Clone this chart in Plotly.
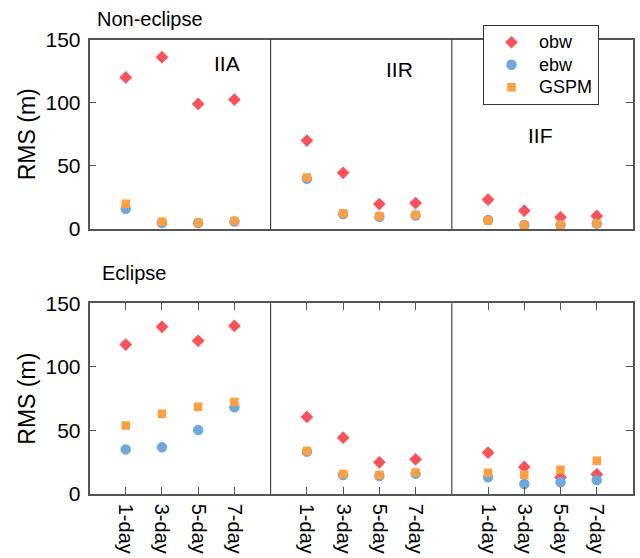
import plotly.graph_objects as go

W, H = 640, 558

categories = ["1-day", "3-day", "5-day", "7-day"]
groups = ["IIA", "IIR", "IIF"]

# Non-eclipse (top panel), values per group: IIA, IIR, IIF
obw_non = [120, 136, 99, 102.5, 70, 44.5, 19.7, 20.5, 23.3, 14.5, 9.3, 10.3]
ebw_non = [16, 4.8, 4.8, 6, 39.7, 11.8, 9.6, 10.6, 7.1, 3.2, 3.4, 4.3]
gspm_non = [20, 5.8, 5.0, 6.3, 40.7, 12.3, 10.0, 11.0, 6.8, 3.2, 3.4, 4.4]

# Eclipse (bottom panel)
obw_ecl = [117.5, 131.5, 120.5, 132.2, 60.6, 44.3, 24.9, 27.3, 32.5, 21.3, 13.0, 15.5]
ebw_ecl = [35.1, 36.7, 50.3, 68.2, 33.3, 14.9, 14.2, 16.0, 13.1, 7.9, 9.2, 11.0]
gspm_ecl = [53.8, 63.2, 68.7, 72.4, 33.8, 15.7, 14.9, 17.0, 16.8, 15.2, 19.1, 26.2]

y_ticks = [0, 50, 100, 150]

# x positions: each group spans 5 units, categories at 1..4 within group
xpos = [g * 5 + i + 1 for g in range(len(groups)) for i in range(len(categories))]
xlabels = categories * len(groups)

RED = "#F9525B"
BLUE = "#6FA8DC"
ORANGE = "#FF9F40"
FONT = "Liberation Sans, Arial, sans-serif"

fig = go.Figure()

def legname(s):
    return f'<span style="font-size:18px">{s}</span>'

def add_series(vals, name, color, symbol, size, xa, ya, show):
    fig.add_trace(go.Scatter(
        x=xpos, y=vals, mode="markers", name=legname(name),
        marker=dict(color=color, symbol=symbol, size=size, line=dict(width=0)),
        xaxis=xa, yaxis=ya, showlegend=show))

add_series(obw_non, "obw", RED, "diamond", 9.8, "x", "y", True)
add_series(ebw_non, "ebw", BLUE, "circle", 10.5, "x", "y", True)
add_series(gspm_non, "GSPM", ORANGE, "square", 8.5, "x", "y", True)
add_series(obw_ecl, "obw", RED, "diamond", 9.8, "x2", "y2", False)
add_series(ebw_ecl, "ebw", BLUE, "circle", 10.5, "x2", "y2", False)
add_series(gspm_ecl, "GSPM", ORANGE, "square", 8.5, "x2", "y2", False)

xdom = [89.5 / W, 633 / W]
top_dom = [1 - 229 / H, 1 - 39.5 / H]
bot_dom = [1 - 494 / H, 1 - 303.3 / H]

frame = dict(showline=True, linecolor="#555555", linewidth=1.5, mirror="ticks",
             showgrid=False, zeroline=False, ticks="inside", ticklen=7,
             tickcolor="#555555", tickwidth=1.2, automargin=False)

fig.update_layout(
    width=W, height=H,
    margin=dict(l=0, r=0, t=0, b=0, autoexpand=False),
    paper_bgcolor="white", plot_bgcolor="white",
    font=dict(family=FONT, color="black", size=20),
    xaxis=dict(domain=xdom, anchor="y", range=[0, 15], tickvals=xpos,
               ticktext=xlabels, showticklabels=False, **{**frame, "ticks": ""}),
    yaxis=dict(domain=top_dom, anchor="x", range=[0, 150], tickvals=y_ticks,
               tickfont=dict(size=21), ticklabelstandoff=3, **frame),
    xaxis2=dict(domain=xdom, anchor="y2", range=[0, 15], tickvals=xpos,
                ticktext=xlabels, tickangle=90, tickfont=dict(size=20),
                ticklabelstandoff=4, **frame),
    yaxis2=dict(domain=bot_dom, anchor="x2", range=[0, 150], tickvals=y_ticks,
                tickfont=dict(size=21), ticklabelstandoff=3, **frame),
    legend=dict(x=483 / W, y=1 - 25 / H, xanchor="left", yanchor="top",
                bgcolor="white", bordercolor="#333333", borderwidth=1,
                font=dict(size=15, family=FONT), itemwidth=45,
                tracegroupgap=0),
    showlegend=True,
)

# group dividers
for xa, ya in [("x", "y"), ("x2", "y2")]:
    for d in [5, 10]:
        fig.add_shape(type="line", xref=xa, yref=f"{ya} domain", x0=d, x1=d,
                      y0=0, y1=1, line=dict(color="#222222", width=1))

annotations = [
    dict(text="Non-eclipse", x=95 / W, y=1 - 19 / H, xanchor="left", yanchor="middle", size=20),
    dict(text="Eclipse", x=100 / W, y=1 - 273 / H, xanchor="left", yanchor="middle", size=20),
    dict(text="IIA", x=227 / W, y=1 - 63 / H, xanchor="center", yanchor="middle", size=21),
    dict(text="IIR", x=399 / W, y=1 - 70 / H, xanchor="center", yanchor="middle", size=21),
    dict(text="IIF", x=540 / W, y=1 - 135 / H, xanchor="center", yanchor="middle", size=21),
]
for a in annotations:
    fig.add_annotation(text=a["text"], xref="paper", yref="paper", x=a["x"], y=a["y"],
                       xanchor=a["xanchor"], yanchor=a["yanchor"], showarrow=False,
                       font=dict(size=a["size"], family=FONT, color="black"))

for yc in [(39.5 + 229) / 2, (303.3 + 494) / 2]:
    fig.add_annotation(text="RMS (m)", xref="paper", yref="paper", x=27 / W, y=1 - yc / H,
                       xanchor="center", yanchor="middle", textangle=-90, showarrow=False,
                       font=dict(size=23, family=FONT, color="black"))

fig.write_html("out.html")
